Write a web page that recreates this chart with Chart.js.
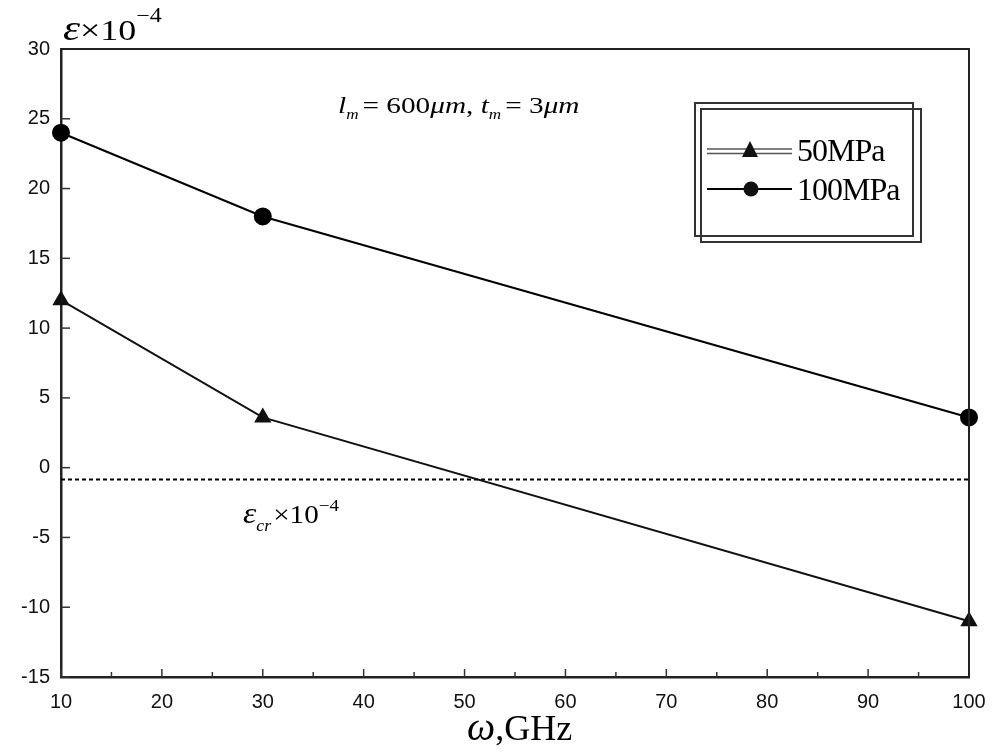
<!DOCTYPE html>
<html>
<head>
<meta charset="utf-8">
<script src="https://cdn.jsdelivr.net/npm/chart.js@4.4.1/dist/chart.umd.min.js"></script>
<style>
  html, body { margin: 0; padding: 0; background: #fff; }
  #wrap { width: 1000px; height: 753px; }
</style>
</head>
<body>
<div id="wrap"><canvas id="strainChart"></canvas></div>
<script>
// frequency (GHz) and strain (x10^-4)
const freqs = [10, 30, 100];
const strain50 = [12, 3.6, -11];
const strain100 = [24, 18, 3.6];
const critX = [10, 100];
const critY = [-0.85, -0.85];
const seriesNames = ['50MPa', '100MPa'];

const toPts = (xs, ys) => xs.map((x, i) => ({ x: x, y: ys[i] }));

const serif = '"Liberation Serif", "DejaVu Serif", serif';
const sans = '"Liberation Sans", Arial, sans-serif';

// draws text with a horizontal stretch, returns the advance
function wideText(ctx, txt, x, y, font, sx) {
    ctx.font = font;
    ctx.save();
    ctx.translate(x, y);
    ctx.scale(sx, 1);
    ctx.fillText(txt, 0, 0);
    ctx.restore();
    return ctx.measureText(txt).width * sx;
}

// inward tick marks, texts and the double-boxed legend
const decorations = {
    id: 'decorations',
    afterDraw(chart) {
        const ctx = chart.ctx;
        const area = chart.chartArea;
        const xs = chart.scales.x, ys = chart.scales.y;
        ctx.save();
        ctx.strokeStyle = '#333';
        ctx.lineWidth = 1.5;
        xs.ticks.forEach(t => {
            const px = xs.getPixelForValue(t.value);
            const len = t.value % 10 === 0 ? 8 : 5;
            ctx.beginPath();
            ctx.moveTo(px, area.bottom);
            ctx.lineTo(px, area.bottom - len);
            ctx.stroke();
        });
        ys.ticks.forEach(t => {
            const py = ys.getPixelForValue(t.value);
            ctx.beginPath();
            ctx.moveTo(area.left, py);
            ctx.lineTo(area.left + 9, py);
            ctx.stroke();
        });

        ctx.fillStyle = '#000';
        ctx.textBaseline = 'alphabetic';
        ctx.textAlign = 'left';

        // y axis title: ε×10^-4
        let x = 63;
        x += wideText(ctx, 'ε', x, 40, 'italic 36px ' + serif, 1.2);
        x += wideText(ctx, '×10', x, 40, '30px ' + serif, 1.2);
        wideText(ctx, '−4', x, 22, '20px ' + serif, 1.2);

        // x axis title: ω,GHz
        x = 467;
        x += wideText(ctx, 'ω', x, 740, 'italic 40px ' + serif, 1);
        wideText(ctx, ',GHz', x, 740, '36px ' + serif, 1);

        // parameter note
        x = 338;
        const base = 113;
        const sx = 1.22;
        x += wideText(ctx, 'l', x, base, 'italic 24px ' + serif, sx);
        x += wideText(ctx, 'm', x, base + 6, 'italic 14px ' + serif, sx) + 4;
        x += wideText(ctx, '= 600', x, base, '24px ' + serif, sx);
        x += wideText(ctx, 'μm', x, base, 'italic 24px ' + serif, sx);
        x += wideText(ctx, ', ', x, base, '24px ' + serif, sx);
        x += wideText(ctx, 't', x, base, 'italic 24px ' + serif, sx);
        x += wideText(ctx, 'm', x, base + 6, 'italic 14px ' + serif, sx) + 4;
        x += wideText(ctx, '= 3', x, base, '24px ' + serif, sx);
        wideText(ctx, 'μm', x, base, 'italic 24px ' + serif, sx);

        // critical strain label
        x = 243;
        const b2 = 523;
        const s2 = 1.12;
        x += wideText(ctx, 'ε', x, b2, 'italic 30px ' + serif, s2);
        x += wideText(ctx, 'cr', x, b2 + 8, 'italic 16px ' + serif, s2) + 2;
        x += wideText(ctx, '×10', x, b2, '26px ' + serif, s2);
        wideText(ctx, '−4', x, b2 - 12, '17px ' + serif, s2);

        // legend, double box
        ctx.strokeStyle = '#333';
        ctx.lineWidth = 2;
        ctx.strokeRect(695, 103, 218, 133);
        ctx.strokeRect(701, 109, 220, 133);
        // 50MPa sample: double line + triangle
        ctx.strokeStyle = '#555';
        ctx.lineWidth = 1.4;
        ctx.beginPath();
        ctx.moveTo(707, 149); ctx.lineTo(792, 149);
        ctx.moveTo(707, 153.5); ctx.lineTo(792, 153.5);
        ctx.stroke();
        ctx.fillStyle = '#111';
        ctx.beginPath();
        ctx.moveTo(750, 141); ctx.lineTo(758, 157); ctx.lineTo(742, 157);
        ctx.closePath();
        ctx.fill();
        // 100MPa sample: line + dot
        ctx.strokeStyle = '#000';
        ctx.lineWidth = 2;
        ctx.beginPath();
        ctx.moveTo(707, 189); ctx.lineTo(792, 189);
        ctx.stroke();
        ctx.beginPath();
        ctx.arc(751, 189, 7.5, 0, Math.PI * 2);
        ctx.fill();
        ctx.fillStyle = '#000';
        ctx.font = '32px ' + serif;
        ctx.letterSpacing = '-1px';
        ctx.fillText(seriesNames[0], 797, 161);
        ctx.fillText(seriesNames[1], 797, 200);
        ctx.letterSpacing = '0px';
        ctx.restore();
    }
};

new Chart(document.getElementById('strainChart'), {
    type: 'line',
    data: {
        datasets: [
            {
                label: seriesNames[0],
                data: toPts(freqs, strain50),
                borderColor: '#111',
                backgroundColor: '#111',
                borderWidth: 2,
                pointStyle: 'triangle',
                pointRadius: 8,
                tension: 0,
                clip: false
            },
            {
                label: seriesNames[1],
                data: toPts(freqs, strain100),
                borderColor: '#000',
                backgroundColor: '#000',
                borderWidth: 2,
                pointStyle: 'circle',
                pointRadius: 8,
                tension: 0,
                clip: false
            },
            {
                label: 'crit',
                data: toPts(critX, critY),
                borderColor: '#000',
                borderWidth: 2,
                borderDash: [4, 3],
                pointRadius: 0,
                tension: 0
            }
        ]
    },
    options: {
        responsive: true,
        maintainAspectRatio: false,
        animation: false,
        devicePixelRatio: 1,
        layout: { padding: { left: 0, top: 49, right: 31, bottom: 0 } },
        plugins: {
            legend: { display: false },
            tooltip: { enabled: false }
        },
        scales: {
            x: {
                type: 'linear',
                min: 10,
                max: 100,
                afterFit: (s) => { s.height = 76; },
                border: { color: '#222', width: 2.5 },
                grid: { display: false },
                ticks: {
                    stepSize: 5,
                    autoSkip: false,
                    maxRotation: 0,
                    padding: 5,
                    color: '#111',
                    font: { family: sans, size: 20 },
                    callback: (v) => (v % 10 === 0 ? v : '')
                }
            },
            y: {
                min: -15,
                max: 30,
                afterFit: (s) => { s.width = 61; },
                border: { color: '#222', width: 2.5 },
                grid: { display: false },
                ticks: {
                    stepSize: 5,
                    padding: 3,
                    color: '#111',
                    font: { family: sans, size: 20 }
                }
            }
        }
    },
    plugins: [decorations, {
        id: 'frame',
        afterDraw(chart) {
            const a = chart.chartArea, c = chart.ctx;
            c.save();
            c.strokeStyle = '#222';
            c.lineWidth = 2;
            c.beginPath();
            c.moveTo(a.left, a.top); c.lineTo(a.right, a.top); c.lineTo(a.right, a.bottom);
            c.stroke();
            c.restore();
        }
    }]
});
</script>
</body>
</html>
